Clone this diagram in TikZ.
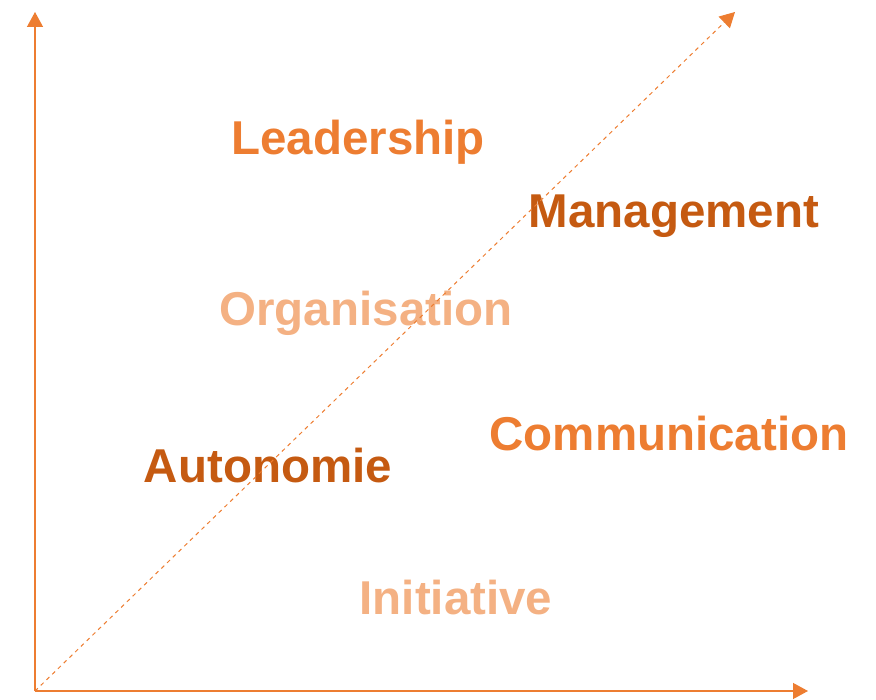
\documentclass[tikz,border=0pt]{standalone}
\usepackage{fontspec}
\setmainfont{Liberation Sans}
\usetikzlibrary{arrows.meta}
\definecolor{orMid}{HTML}{ED7D31}
\definecolor{orDark}{HTML}{C55A11}
\definecolor{orLight}{HTML}{F4B183}
\tikzset{
  skill/.style={font=\fontsize{47.5}{50}\selectfont\bfseries, inner sep=0pt, anchor=base},
  axis/.style={draw=orMid, line width=1.3pt, -{Triangle[length=15pt,width=16pt]}},
  trend/.style={draw=orMid, line width=1pt, dash pattern=on 4pt off 4pt, -{Triangle[length=15pt,width=16pt]}},
}
\begin{document}
\begin{tikzpicture}[x=1pt,y=-1pt]
\useasboundingbox (0,0) rectangle (876,700);
% skill labels
\node[skill, text=orMid]   (lead) at (358,155) {Leadership};
\node[skill, text=orDark]  (mgmt) at (674,228) {Management};
\node[skill, text=orLight] (orga) at (366,326) {Organisation};
\node[skill, text=orMid]   (comm) at (669,451) {Communication};
\node[skill, text=orDark]  (auto) at (268,483) {Autonomie};
\node[skill, text=orLight] (init) at (456,614) {Initiative};
% axes and trend line
\coordinate (O) at (35,691);
\coordinate (ytip) at (35,12);
\coordinate (xtip) at (808,691);
\coordinate (dtip) at (735,12);
\draw[axis] (O) -- (ytip);
\draw[axis] (O) -- (xtip);
\draw[trend] (O) -- (dtip);
\end{tikzpicture}
\end{document}
